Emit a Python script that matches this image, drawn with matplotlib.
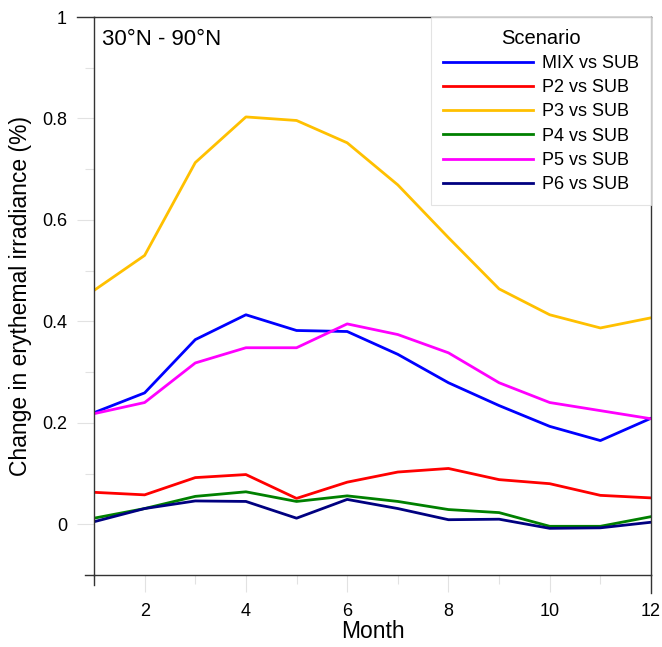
import matplotlib
matplotlib.use("Agg")
import matplotlib.pyplot as plt
from matplotlib.ticker import MultipleLocator, FixedLocator
from matplotlib.lines import Line2D

plt.rcParams['font.family'] = ['Liberation Sans', 'DejaVu Sans']

months = list(range(1, 13))
series_names = ["MIX vs SUB", "P2 vs SUB", "P3 vs SUB", "P4 vs SUB", "P5 vs SUB", "P6 vs SUB"]
mix = [0.220, 0.259, 0.364, 0.413, 0.382, 0.380, 0.335, 0.279, 0.234, 0.193, 0.165, 0.209]
p2 = [0.063, 0.058, 0.092, 0.098, 0.051, 0.083, 0.103, 0.110, 0.088, 0.080, 0.057, 0.052]
p3 = [0.461, 0.530, 0.713, 0.803, 0.796, 0.752, 0.669, 0.565, 0.464, 0.413, 0.387, 0.407]
p4 = [0.012, 0.031, 0.055, 0.064, 0.045, 0.056, 0.045, 0.029, 0.023, -0.004, -0.004, 0.015]
p5 = [0.218, 0.240, 0.318, 0.348, 0.348, 0.395, 0.374, 0.338, 0.279, 0.240, 0.224, 0.208]
p6 = [0.005, 0.031, 0.046, 0.045, 0.012, 0.049, 0.031, 0.009, 0.010, -0.008, -0.007, 0.004]
colors = ["#0000ff", "#ff0000", "#ffc000", "#008000", "#ff00ff", "#000080"]
x_ticks = [2, 4, 6, 8, 10, 12]
y_ticks = [0, 0.2, 0.4, 0.6, 0.8, 1]
y_tick_labels = ["0", "0.2", "0.4", "0.6", "0.8", "1"]

W, H = 662, 647
L, R, T, B = 94, 651, 17, 575
fig = plt.figure(figsize=(W / 100, H / 100), dpi=100)
ax = fig.add_axes([L / W, (H - B) / H, (R - L) / W, (B - T) / H])
aw, ah = R - L, B - T

for name, vals, c in zip(series_names, [mix, p2, p3, p4, p5, p6], colors):
    ax.plot(months, vals, color=c, lw=2.0, label=name)

ax.set_xlim(1, 12)
ax.set_ylim(-0.1, 1.0)
ax.xaxis.set_major_locator(FixedLocator(x_ticks))
ax.xaxis.set_minor_locator(MultipleLocator(1))
ax.yaxis.set_major_locator(FixedLocator(y_ticks))
ax.set_yticklabels(y_tick_labels)
ax.yaxis.set_minor_locator(MultipleLocator(0.1))
ax.tick_params(axis='both', which='both', direction='out', color='#e2e2e2', labelsize=13, width=0.8)
ax.tick_params(axis='both', which='major', length=12.5)
ax.tick_params(axis='both', which='minor', length=6.5)
ax.tick_params(axis='y', which='major', pad=7)
ax.tick_params(axis='x', which='major', pad=8)
for s in ax.spines.values():
    s.set_color('#333333')
    s.set_linewidth(1.0)

# dark spine extensions (end ticks colinear with the frame)
ext = [((-17 / aw, 0), (1, 1)), ((-9 / aw, 0), (0, 0)),
       ((0, 0), (-10 / ah, 0)), ((1, 1), (-18 / ah, 0))]
for xs, ys in ext:
    ax.add_line(Line2D(xs, ys, transform=ax.transAxes, color='#333333', lw=1.0, clip_on=False))

ax.set_xlabel("Month", fontsize=16.5)
ax.set_ylabel("Change in erythemal irradiance (%)", fontsize=16.5)
ax.xaxis.set_label_coords(0.5, -(620 - B) / ah)
ax.yaxis.set_label_coords(-(94 - 32) / aw, 0.5)

ax.text(0.015, 0.978, "30°N - 90°N", transform=ax.transAxes, ha='left', va='top', fontsize=16)

leg = ax.legend(loc='upper right', title="Scenario", fontsize=13, title_fontsize=14.5,
                frameon=True, fancybox=False, borderaxespad=0, handlelength=5.0,
                handletextpad=0.5, labelspacing=0.4, edgecolor='#dddddd',
                borderpad=0.65)
leg.get_frame().set_linewidth(0.8)

fig.savefig("out.png", dpi=100)
